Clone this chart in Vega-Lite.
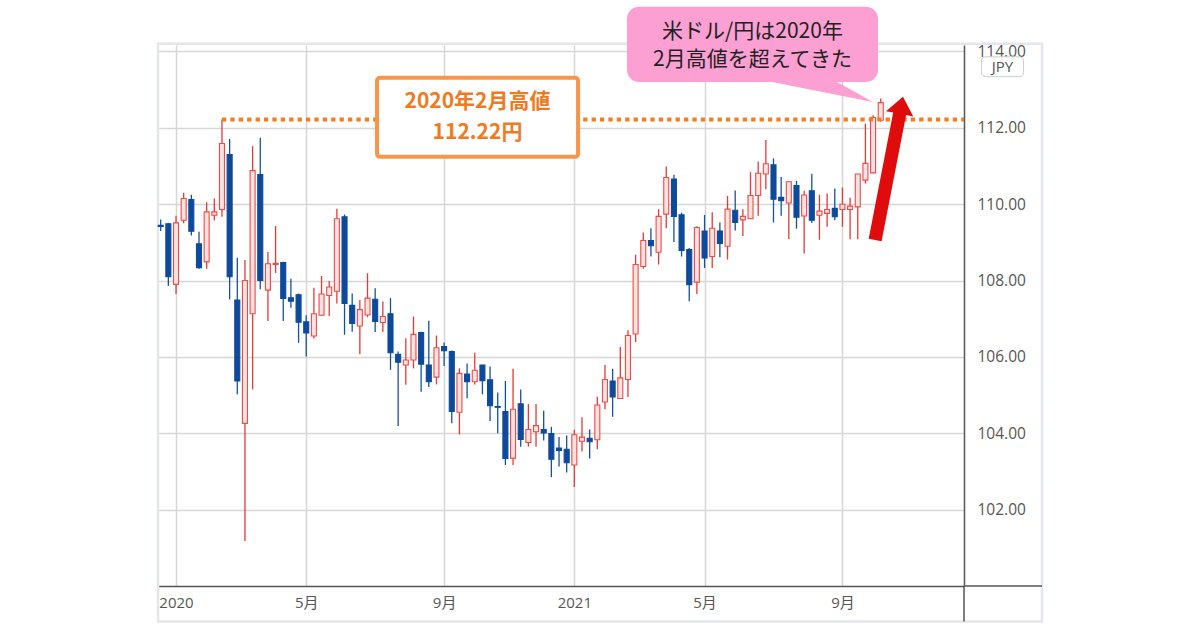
{
  "$schema": "https://vega.github.io/schema/vega-lite/v6.json",
  "width": 806,
  "height": 541,
  "autosize": {"type": "none"},
  "padding": {"left": 158, "top": 45, "right": 236, "bottom": 44},
  "background": "white",
  "config": {
    "view": {"stroke": null},
    "axis": {"gridColor": "#d6d6d6", "gridWidth": 1.5, "ticks": false, "domainColor": "#555555", "domainWidth": 1.5, "labelColor": "#555555"}
  },
  "datasets": {
    "candles": [
      {"d": "2019-12-23", "o": 109.45, "h": 109.60, "l": 109.30, "c": 109.42},
      {"d": "2019-12-30", "o": 109.49, "h": 109.51, "l": 107.86, "c": 108.10},
      {"d": "2020-01-06", "o": 107.90, "h": 109.70, "l": 107.65, "c": 109.51},
      {"d": "2020-01-13", "o": 109.58, "h": 110.30, "l": 109.50, "c": 110.15},
      {"d": "2020-01-20", "o": 110.12, "h": 110.25, "l": 109.18, "c": 109.29},
      {"d": "2020-01-27", "o": 108.96, "h": 109.28, "l": 108.31, "c": 108.34},
      {"d": "2020-02-03", "o": 108.49, "h": 110.05, "l": 108.31, "c": 109.80},
      {"d": "2020-02-10", "o": 109.71, "h": 110.15, "l": 109.57, "c": 109.80},
      {"d": "2020-02-17", "o": 109.86, "h": 112.22, "l": 109.67, "c": 111.59},
      {"d": "2020-02-24", "o": 111.30, "h": 111.71, "l": 107.51, "c": 108.10},
      {"d": "2020-03-02", "o": 107.49, "h": 108.60, "l": 105.02, "c": 105.37},
      {"d": "2020-03-09", "o": 104.26, "h": 108.54, "l": 101.18, "c": 108.00},
      {"d": "2020-03-16", "o": 107.13, "h": 111.52, "l": 105.15, "c": 110.88},
      {"d": "2020-03-23", "o": 110.78, "h": 111.74, "l": 107.77, "c": 108.00},
      {"d": "2020-03-30", "o": 107.75, "h": 108.75, "l": 106.94, "c": 108.44},
      {"d": "2020-04-06", "o": 108.42, "h": 109.43, "l": 108.20, "c": 108.45},
      {"d": "2020-04-13", "o": 108.47, "h": 108.49, "l": 106.94, "c": 107.53},
      {"d": "2020-04-20", "o": 107.55, "h": 108.05, "l": 107.29, "c": 107.46},
      {"d": "2020-04-27", "o": 107.63, "h": 107.66, "l": 106.37, "c": 106.91},
      {"d": "2020-05-04", "o": 106.92, "h": 107.09, "l": 106.01, "c": 106.63},
      {"d": "2020-05-11", "o": 106.55, "h": 107.81, "l": 106.48, "c": 107.13},
      {"d": "2020-05-18", "o": 107.09, "h": 108.12, "l": 107.07, "c": 107.65},
      {"d": "2020-05-25", "o": 107.61, "h": 107.99, "l": 107.07, "c": 107.83},
      {"d": "2020-06-01", "o": 107.72, "h": 109.88, "l": 107.40, "c": 109.62},
      {"d": "2020-06-08", "o": 109.67, "h": 109.73, "l": 106.58, "c": 107.40},
      {"d": "2020-06-15", "o": 107.35, "h": 107.66, "l": 106.66, "c": 106.88},
      {"d": "2020-06-22", "o": 106.81, "h": 107.49, "l": 106.07, "c": 107.24},
      {"d": "2020-06-29", "o": 107.10, "h": 108.19, "l": 107.04, "c": 107.54},
      {"d": "2020-07-06", "o": 107.51, "h": 107.80, "l": 106.65, "c": 106.93},
      {"d": "2020-07-13", "o": 106.90, "h": 107.45, "l": 106.65, "c": 107.06},
      {"d": "2020-07-20", "o": 107.13, "h": 107.54, "l": 105.66, "c": 106.11},
      {"d": "2020-07-27", "o": 106.07, "h": 106.14, "l": 104.19, "c": 105.86},
      {"d": "2020-08-03", "o": 105.79, "h": 106.49, "l": 105.27, "c": 105.92},
      {"d": "2020-08-10", "o": 105.92, "h": 107.06, "l": 105.70, "c": 106.59},
      {"d": "2020-08-17", "o": 106.64, "h": 106.66, "l": 105.09, "c": 105.81},
      {"d": "2020-08-24", "o": 105.79, "h": 106.95, "l": 105.21, "c": 105.35},
      {"d": "2020-08-31", "o": 105.47, "h": 106.56, "l": 105.28, "c": 106.24},
      {"d": "2020-09-07", "o": 106.27, "h": 106.38, "l": 105.76, "c": 106.16},
      {"d": "2020-09-14", "o": 106.14, "h": 106.17, "l": 104.26, "c": 104.57},
      {"d": "2020-09-21", "o": 104.55, "h": 105.70, "l": 103.97, "c": 105.57},
      {"d": "2020-09-28", "o": 105.55, "h": 105.83, "l": 104.92, "c": 105.35},
      {"d": "2020-10-05", "o": 105.35, "h": 106.11, "l": 105.28, "c": 105.65},
      {"d": "2020-10-12", "o": 105.79, "h": 105.79, "l": 105.02, "c": 105.38},
      {"d": "2020-10-19", "o": 105.40, "h": 105.75, "l": 104.32, "c": 104.72},
      {"d": "2020-10-26", "o": 104.70, "h": 105.07, "l": 104.00, "c": 104.68},
      {"d": "2020-11-02", "o": 104.57, "h": 105.37, "l": 103.17, "c": 103.34},
      {"d": "2020-11-09", "o": 103.35, "h": 105.69, "l": 103.17, "c": 104.63},
      {"d": "2020-11-16", "o": 104.77, "h": 105.15, "l": 103.65, "c": 103.84},
      {"d": "2020-11-23", "o": 103.76, "h": 104.77, "l": 103.65, "c": 104.10},
      {"d": "2020-11-30", "o": 104.04, "h": 104.77, "l": 103.65, "c": 104.20},
      {"d": "2020-12-07", "o": 104.10, "h": 104.59, "l": 103.81, "c": 104.01},
      {"d": "2020-12-14", "o": 103.99, "h": 104.17, "l": 102.85, "c": 103.32},
      {"d": "2020-12-21", "o": 103.61, "h": 103.90, "l": 103.13, "c": 103.55},
      {"d": "2020-12-28", "o": 103.58, "h": 103.94, "l": 102.97, "c": 103.23},
      {"d": "2021-01-04", "o": 103.17, "h": 104.09, "l": 102.59, "c": 103.96},
      {"d": "2021-01-11", "o": 103.79, "h": 104.42, "l": 103.52, "c": 103.90},
      {"d": "2021-01-18", "o": 103.87, "h": 104.10, "l": 103.34, "c": 103.78},
      {"d": "2021-01-25", "o": 103.83, "h": 104.96, "l": 103.58, "c": 104.74},
      {"d": "2021-02-01", "o": 104.82, "h": 105.79, "l": 104.63, "c": 105.41},
      {"d": "2021-02-08", "o": 105.37, "h": 105.69, "l": 104.43, "c": 104.95},
      {"d": "2021-02-15", "o": 104.91, "h": 106.26, "l": 104.90, "c": 105.45},
      {"d": "2021-02-22", "o": 105.41, "h": 106.70, "l": 104.95, "c": 106.56},
      {"d": "2021-03-01", "o": 106.60, "h": 108.68, "l": 106.39, "c": 108.42},
      {"d": "2021-03-08", "o": 108.37, "h": 109.26, "l": 108.31, "c": 109.05},
      {"d": "2021-03-15", "o": 109.05, "h": 109.37, "l": 108.63, "c": 108.91},
      {"d": "2021-03-22", "o": 108.74, "h": 109.87, "l": 108.42, "c": 109.68},
      {"d": "2021-03-29", "o": 109.74, "h": 110.99, "l": 109.37, "c": 110.70},
      {"d": "2021-04-05", "o": 110.66, "h": 110.77, "l": 109.01, "c": 109.68},
      {"d": "2021-04-12", "o": 109.72, "h": 109.78, "l": 108.63, "c": 108.79},
      {"d": "2021-04-19", "o": 108.81, "h": 108.85, "l": 107.46, "c": 107.89},
      {"d": "2021-04-26", "o": 107.96, "h": 109.42, "l": 107.65, "c": 109.39},
      {"d": "2021-05-03", "o": 109.30, "h": 109.72, "l": 108.33, "c": 108.59},
      {"d": "2021-05-10", "o": 108.63, "h": 109.79, "l": 108.33, "c": 109.37},
      {"d": "2021-05-17", "o": 109.30, "h": 109.52, "l": 108.61, "c": 108.97},
      {"d": "2021-05-24", "o": 108.90, "h": 110.22, "l": 108.55, "c": 109.87},
      {"d": "2021-05-31", "o": 109.84, "h": 110.36, "l": 109.31, "c": 109.52},
      {"d": "2021-06-07", "o": 109.59, "h": 109.87, "l": 109.17, "c": 109.68},
      {"d": "2021-06-14", "o": 109.62, "h": 110.84, "l": 109.61, "c": 110.23},
      {"d": "2021-06-21", "o": 110.23, "h": 111.12, "l": 109.70, "c": 110.81},
      {"d": "2021-06-28", "o": 110.79, "h": 111.68, "l": 110.39, "c": 111.06},
      {"d": "2021-07-05", "o": 111.03, "h": 111.20, "l": 109.52, "c": 110.13},
      {"d": "2021-07-12", "o": 110.18, "h": 110.71, "l": 109.70, "c": 110.09},
      {"d": "2021-07-19", "o": 110.03, "h": 110.61, "l": 109.09, "c": 110.59},
      {"d": "2021-07-26", "o": 110.49, "h": 110.61, "l": 109.36, "c": 109.66},
      {"d": "2021-08-02", "o": 109.69, "h": 110.35, "l": 108.71, "c": 110.24},
      {"d": "2021-08-09", "o": 110.35, "h": 110.80, "l": 109.51, "c": 109.58},
      {"d": "2021-08-16", "o": 109.71, "h": 110.25, "l": 109.07, "c": 109.82},
      {"d": "2021-08-23", "o": 109.76, "h": 110.28, "l": 109.41, "c": 109.86},
      {"d": "2021-08-30", "o": 109.89, "h": 110.41, "l": 109.58, "c": 109.67},
      {"d": "2021-09-06", "o": 109.86, "h": 110.44, "l": 109.41, "c": 110.00},
      {"d": "2021-09-13", "o": 109.86, "h": 110.17, "l": 109.08, "c": 109.95},
      {"d": "2021-09-20", "o": 109.93, "h": 110.80, "l": 109.08, "c": 110.79},
      {"d": "2021-09-27", "o": 110.63, "h": 112.11, "l": 110.54, "c": 111.07},
      {"d": "2021-10-04", "o": 110.82, "h": 112.33, "l": 110.82, "c": 112.27},
      {"d": "2021-10-11", "o": 112.20, "h": 112.77, "l": 112.16, "c": 112.66}
    ]
  },
  "layer": [
    {
      "data": {"values": [{"t1": 1576846800000, "t2": 1646645760000, "p1": 99.07, "p2": 114.2}]},
      "mark": {"type": "rect", "fillOpacity": 0, "stroke": "#e4e6ec", "strokeWidth": 2.5},
      "encoding": {
        "x": {"field": "t1", "type": "temporal", "title": null},
        "x2": {"field": "t2"},
        "y": {"field": "p1", "type": "quantitative", "title": null},
        "y2": {"field": "p2"}
      }
    },
    {
      "data": {"name": "candles"},
      "mark": {"type": "rule", "strokeWidth": 1.3},
      "encoding": {
        "x": {
          "field": "d", "type": "temporal", "title": null,
          "scale": {"type": "utc", "domain": [1576846800000, 1640484000000], "nice": false, "padding": 0},
          "axis": {
            "values": [1578268800000, 1588550400000, 1599436800000, 1609718400000, 1620000000000, 1630886400000],
            "labelExpr": "utcmonth(datum.value) == 0 ? '' + utcyear(datum.value) : (utcmonth(datum.value) + 1) + '月'",
            "labelFont": "Open Sans, Noto Sans CJK JP",
            "labelFontSize": 15,
            "labelPadding": 9,
            "labelFlush": false,
            "labelOverlap": false,
            "grid": true
          }
        },
        "y": {
          "field": "l", "type": "quantitative", "title": null,
          "scale": {"domain": [100.0, 114.17], "nice": false, "zero": false, "padding": 0},
          "axis": {
            "orient": "right",
            "values": [102, 104, 106, 108, 110, 112, 114],
            "format": ".2f",
            "labelFont": "Open Sans",
            "labelFontSize": 15.5,
            "labelPadding": 13,
            "grid": true
          }
        },
        "y2": {"field": "h"},
        "color": {"condition": {"test": "datum.c >= datum.o", "value": "#e53935"}, "value": "#15519e"}
      }
    },
    {
      "data": {"name": "candles"},
      "mark": {"type": "bar", "size": 5, "strokeWidth": 1.1},
      "encoding": {
        "x": {"field": "d", "type": "temporal", "title": null},
        "y": {"field": "o", "type": "quantitative", "title": null},
        "y2": {"field": "c"},
        "fill": {"condition": {"test": "datum.c >= datum.o", "value": "#fde2e2"}, "value": "#0d4a9b"},
        "stroke": {"condition": {"test": "datum.c >= datum.o", "value": "#ee4a46"}, "value": "#0d4a9b"}
      }
    },
    {
      "data": {"values": [{"t1": 1581897600000, "t2": 1640484000000, "p": 112.22}]},
      "mark": {"type": "rule", "strokeWidth": 4, "strokeDash": [4.3, 4.1], "color": "#f57d20", "strokeCap": "butt"},
      "encoding": {
        "x": {"field": "t1", "type": "temporal", "title": null},
        "x2": {"field": "t2"},
        "y": {"field": "p", "type": "quantitative", "title": null}
      }
    },
    {
      "data": {"values": [{"t": 1634567040000, "p": 110.94}]},
      "mark": {"type": "point", "filled": true, "opacity": 1, "color": "#e00b0b", "size": 21316, "angle": 11,
               "shape": "M-0.09,1L-0.09,-0.76L-0.19,-0.76L0,-1L0.19,-0.76L0.09,-0.76L0.09,1Z"},
      "encoding": {
        "x": {"field": "t", "type": "temporal", "title": null},
        "y": {"field": "p", "type": "quantitative", "title": null}
      }
    },
    {
      "data": {"values": [{"t1": 1594140480000, "t2": 1610012160000, "p1": 111.24, "p2": 113.31}]},
      "mark": {"type": "rect", "fill": "white", "stroke": "#f7964a", "strokeWidth": 4, "cornerRadius": 3},
      "encoding": {
        "x": {"field": "t1", "type": "temporal", "title": null},
        "x2": {"field": "t2"},
        "y": {"field": "p1", "type": "quantitative", "title": null},
        "y2": {"field": "p2"}
      }
    },
    {
      "data": {"values": [
        {"t": 1602072000000, "p": 112.69, "s": "2020年2月高値"},
        {"t": 1602072000000, "p": 111.87, "s": "112.22円"}
      ]},
      "mark": {"type": "text", "font": "Noto Sans CJK JP", "fontWeight": "bold", "fontSize": 21, "color": "#f07a1e", "baseline": "middle", "align": "center"},
      "encoding": {
        "x": {"field": "t", "type": "temporal", "title": null},
        "y": {"field": "p", "type": "quantitative", "title": null},
        "text": {"field": "s"}
      }
    },
    {
      "data": {"values": [{"t1": 1613874240000, "t2": 1633694400000, "p1": 113.2, "p2": 115.17}]},
      "mark": {"type": "rect", "fill": "#fc9fd2", "cornerRadius": 12},
      "encoding": {
        "x": {"field": "t1", "type": "temporal", "title": null},
        "x2": {"field": "t2"},
        "y": {"field": "p1", "type": "quantitative", "title": null},
        "y2": {"field": "p2"}
      }
    },
    {
      "data": {"values": [{"t": 1629901440000, "p": 112.99}]},
      "mark": {"type": "point", "filled": true, "opacity": 1, "color": "#fc9fd2", "size": 3600,
               "shape": "M-2.57,-0.4L0,-0.4L1.43,0.4Z"},
      "encoding": {
        "x": {"field": "t", "type": "temporal", "title": null},
        "y": {"field": "p", "type": "quantitative", "title": null}
      }
    },
    {
      "data": {"values": [
        {"t": 1623784320000, "p": 114.52, "s": "米ドル/円は2020年"},
        {"t": 1623784320000, "p": 113.78, "s": "2月高値を超えてきた"}
      ]},
      "mark": {"type": "text", "font": "Noto Sans CJK JP", "fontSize": 21, "color": "#222222", "baseline": "middle", "align": "center"},
      "encoding": {
        "x": {"field": "t", "type": "temporal", "title": null},
        "y": {"field": "p", "type": "quantitative", "title": null},
        "text": {"field": "s"}
      }
    },
    {
      "data": {"values": [{"t1": 1641866560000, "t2": 1645186880000, "p1": 113.34, "p2": 113.86}]},
      "mark": {"type": "rect", "fill": "white", "stroke": "#cccccc", "strokeWidth": 1, "cornerRadius": 4},
      "encoding": {
        "x": {"field": "t1", "type": "temporal", "title": null},
        "x2": {"field": "t2"},
        "y": {"field": "p1", "type": "quantitative", "title": null},
        "y2": {"field": "p2"}
      }
    },
    {
      "data": {"values": [{"t": 1643526720000, "p": 113.6, "s": "JPY"}]},
      "mark": {"type": "text", "font": "Open Sans", "fontSize": 15, "color": "#555555", "baseline": "middle", "align": "center"},
      "encoding": {
        "x": {"field": "t", "type": "temporal", "title": null},
        "y": {"field": "p", "type": "quantitative", "title": null},
        "text": {"field": "s"}
      }
    },
    {
      "data": {"values": [
        {"t1": 1640484000000, "t2": 1646645760000, "p1": 100.0, "p2": 100.0},
        {"t1": 1640484000000, "t2": 1640484000000, "p1": 99.07, "p2": 100.0}
      ]},
      "mark": {"type": "rule", "strokeWidth": 1.5, "color": "#555555"},
      "encoding": {
        "x": {"field": "t1", "type": "temporal", "title": null},
        "x2": {"field": "t2"},
        "y": {"field": "p1", "type": "quantitative", "title": null},
        "y2": {"field": "p2"}
      }
    }
  ]
}
